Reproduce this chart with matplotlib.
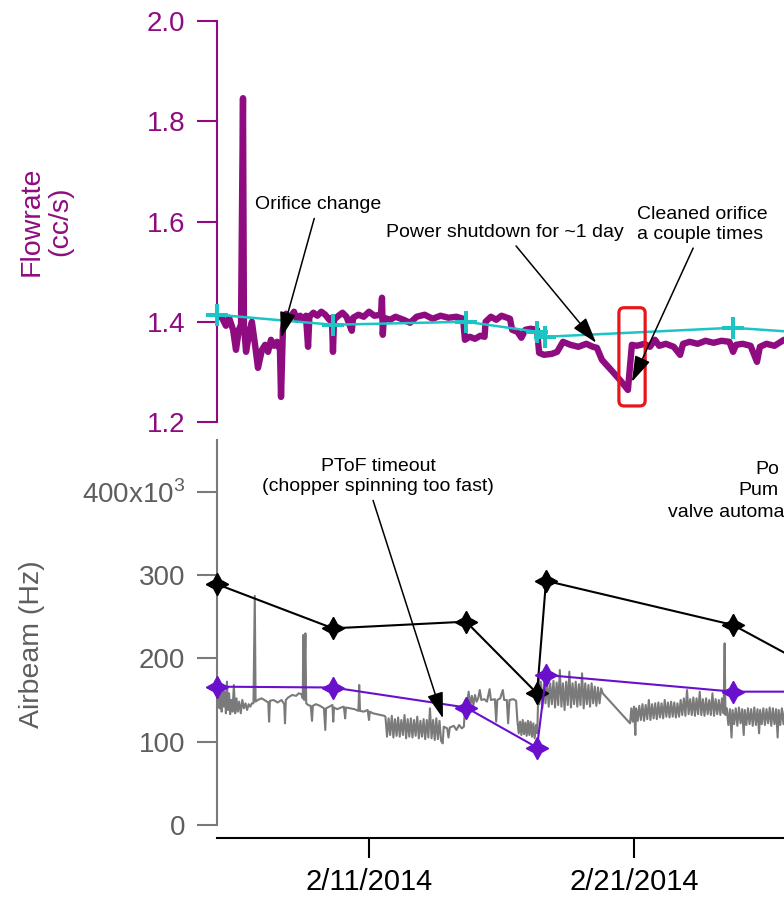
import numpy as np
import matplotlib
matplotlib.use("Agg")
import matplotlib.pyplot as plt
import matplotlib.dates as mdates
from matplotlib.patches import FancyBboxPatch

plt.rcParams['font.family'] = ['Liberation Sans', 'DejaVu Sans']
plt.rcParams['mathtext.fontset'] = 'custom'
plt.rcParams['mathtext.rm'] = 'Liberation Sans'

# ---- data (days since 2014-02-01) ----
flow_days = [4.26, 4.45, 4.60, 4.72, 4.87, 4.98, 5.09, 5.17, 5.245, 5.28, 5.36, 5.47, 5.58, 5.70,
             5.81, 5.96, 6.08, 6.19, 6.30, 6.42, 6.53, 6.64, 6.68, 6.75, 6.87, 7.02, 7.17, 7.28,
             7.40, 7.51, 7.62, 7.70, 7.75, 7.90, 8.05, 8.20, 8.35, 8.50, 8.60, 8.64, 8.68, 8.85,
             9.00, 9.15, 9.35, 9.40, 9.60, 9.80, 10.00, 10.20, 10.45, 10.49, 10.52, 10.56, 10.80,
             11.00, 11.30, 11.55, 11.80, 12.10, 12.40, 12.70, 13.00, 13.30, 13.55, 13.62, 13.80,
             14.00, 14.20, 14.36, 14.40, 14.60, 14.80, 15.00, 15.32, 15.40, 15.60, 15.75, 15.90,
             16.10, 16.34, 16.42, 16.60, 16.90, 17.10, 17.32, 17.60, 17.90, 18.20, 18.45, 18.60,
             18.79, 19.20, 19.50, 19.77, 19.92, 20.10, 20.40, 20.60, 20.79, 20.95, 21.20, 21.50,
             21.74, 21.85, 22.10, 22.40, 22.70, 23.00, 23.30, 23.60, 23.74, 23.85, 24.10, 24.40,
             24.64, 24.75, 25.00, 25.30, 25.66]
flow_vals = [1.412, 1.408, 1.392, 1.408, 1.384, 1.344, 1.384, 1.394, 1.846, 1.394, 1.340, 1.374, 1.400, 1.354,
             1.308, 1.344, 1.354, 1.340, 1.364, 1.352, 1.360, 1.344, 1.250, 1.384, 1.416, 1.408, 1.420, 1.404,
             1.412, 1.404, 1.412, 1.350, 1.410, 1.418, 1.412, 1.420, 1.414, 1.404, 1.408, 1.340, 1.404, 1.412,
             1.418, 1.410, 1.382, 1.408, 1.414, 1.410, 1.420, 1.412, 1.414, 1.448, 1.374, 1.408, 1.404,
             1.410, 1.404, 1.398, 1.410, 1.414, 1.406, 1.412, 1.408, 1.410, 1.406, 1.364, 1.370,
             1.366, 1.372, 1.370, 1.400, 1.410, 1.404, 1.412, 1.406, 1.384, 1.380, 1.368, 1.384,
             1.386, 1.384, 1.338, 1.334, 1.336, 1.340, 1.360, 1.354, 1.350, 1.356, 1.350, 1.348,
             1.324, 1.300, 1.282, 1.264, 1.354, 1.352, 1.356, 1.350, 1.364, 1.352, 1.356, 1.350,
             1.334, 1.356, 1.360, 1.356, 1.362, 1.358, 1.362, 1.360, 1.340, 1.354, 1.356, 1.352,
             1.320, 1.350, 1.356, 1.352, 1.364]

cal_days = [4.26, 8.64, 13.66, 16.34, 16.64, 23.74, 26.5]
cal_vals = [1.414, 1.394, 1.400, 1.380, 1.370, 1.388, 1.378]

air_days = [4.27, 4.30, 4.33, 4.36, 4.40, 4.44, 4.48, 4.52, 4.56, 4.60, 4.64, 4.68, 4.72, 4.76, 4.80,
            4.85, 4.90, 4.95, 5.00, 5.05, 5.10, 5.16, 5.22, 5.28, 5.34, 5.40, 5.46, 5.52, 5.58,
            5.64, 5.69, 5.72, 5.80, 5.95, 6.10, 6.20, 6.23, 6.26, 6.40, 6.55, 6.70, 6.80, 6.83, 6.86,
            6.95, 7.10, 7.25, 7.35, 7.45, 7.50, 7.52, 7.55, 7.60, 7.63, 7.70, 7.80, 7.85, 7.88, 8.00,
            8.15, 8.30, 8.35, 8.38, 8.50, 8.62, 8.65, 8.68, 8.80, 8.95, 9.05, 9.10, 9.13, 9.30, 9.45,
            9.60, 9.63, 9.66, 9.80, 9.95, 10.00, 10.03, 10.15, 10.30, 10.45, 10.58,
            10.62, 10.68, 10.74, 10.80, 10.86, 10.92, 10.98, 11.04, 11.10, 11.16, 11.22, 11.28,
            11.34, 11.40, 11.46, 11.52, 11.58, 11.64, 11.70, 11.76, 11.82, 11.88, 11.94, 12.00,
            12.06, 12.12, 12.18, 12.24, 12.30, 12.36, 12.42, 12.48, 12.54, 12.60, 12.66, 12.72, 12.78,
            12.82, 12.95, 13.00, 13.05, 13.20, 13.30, 13.40, 13.50, 13.58,
            13.64, 13.70, 13.76, 13.82, 13.88, 13.94, 14.00, 14.06, 14.12, 14.18, 14.24, 14.35,
            14.45, 14.55, 14.60, 14.75, 14.80, 14.84, 14.95, 15.05, 15.10, 15.20, 15.25, 15.30,
            15.45, 15.55,
            15.60, 15.65, 15.70, 15.75, 15.80, 15.85, 15.90, 15.95, 16.00, 16.05, 16.10, 16.15,
            16.20, 16.25, 16.30, 16.35, 16.40,
            16.42, 16.48, 16.54, 16.60, 16.66, 16.72, 16.78, 16.84, 16.90, 16.96, 17.02, 17.08,
            17.14, 17.20, 17.26, 17.32, 17.38, 17.44, 17.50, 17.56, 17.62, 17.68, 17.74, 17.80,
            17.86, 17.92, 17.98, 18.04, 18.10, 18.16, 18.22, 18.28, 18.34, 18.40, 18.46, 18.52,
            18.58, 18.64, 18.70, 18.76, 18.82,
            19.85, 19.90, 19.95, 20.00, 20.05, 20.08, 20.14, 20.20, 20.26, 20.32, 20.38, 20.44,
            20.50, 20.56, 20.62, 20.68, 20.74, 20.80, 20.86, 20.92, 20.98, 21.04, 21.10, 21.16,
            21.22, 21.28, 21.34, 21.40, 21.46, 21.52, 21.58, 21.64, 21.70,
            21.76, 21.82, 21.88, 21.94, 22.00, 22.06, 22.12, 22.18, 22.24, 22.30, 22.36, 22.42,
            22.48, 22.54, 22.60, 22.66, 22.72, 22.78, 22.84, 22.90, 22.96, 23.02, 23.08, 23.14,
            23.20, 23.26, 23.32, 23.38, 23.42, 23.45,
            23.50, 23.56, 23.62, 23.68, 23.72, 23.78, 23.84, 23.90, 23.96, 24.02, 24.08, 24.14,
            24.18, 24.24, 24.30, 24.36, 24.42, 24.48, 24.54, 24.60, 24.66, 24.72, 24.76, 24.82,
            24.88, 24.94, 25.00, 25.06, 25.12, 25.18, 25.24, 25.30, 25.36, 25.42, 25.46, 25.52,
            25.58, 25.64, 25.70]
air_vals = [175, 150, 170, 140, 165, 136, 168, 142, 160, 134, 172, 138, 158, 133, 150,
            136, 168, 134, 152, 136, 148, 134, 150, 140, 146, 138, 145, 142, 146,
            146, 275, 148, 150, 152, 149, 147, 124, 149, 150, 147, 150, 145, 122, 150,
            153, 156, 155, 158, 157, 152, 228, 150, 230, 146, 144, 143, 125, 143, 145,
            143, 140, 114, 140, 142, 144, 124, 141, 139, 141, 142, 128, 141, 140, 139,
            137, 168, 137, 136, 138, 126, 136, 134, 133, 132, 131,
            130, 106, 128, 108, 131, 105, 127, 107, 129, 106, 126, 108,
            132, 104, 127, 106, 128, 105, 126, 107, 130, 104, 125, 106,
            127, 103, 126, 105, 140, 104, 126, 102, 128, 103, 125, 101, 98,
            118, 116, 105, 117, 119, 114, 120, 116, 118,
            150, 146, 160, 142, 155, 144, 156, 148, 152, 162, 150, 151,
            148, 163, 150, 151, 124, 150, 152, 162, 150, 150, 122, 150,
            151, 149,
            125, 110, 124, 108, 126, 109, 123, 107, 125, 108, 124, 106,
            122, 104, 120, 110, 175,
            145, 172, 140, 170, 146, 174, 142, 170, 145, 173, 141, 171,
            144, 186, 142, 170, 138, 172, 144, 184, 141, 170, 145, 172,
            142, 169, 144, 182, 140, 170, 145, 168, 142, 170, 146, 166,
            143, 165, 146, 164, 158,
            122, 140, 124, 142, 108, 140, 125, 143, 126, 145, 125, 144,
            127, 150, 126, 145, 128, 146, 127, 147, 129, 146, 128, 150,
            130, 147, 129, 148, 130, 147, 129, 146, 130,
            150, 132, 152, 131, 162, 133, 151, 132, 153, 131, 152, 133,
            160, 132, 151, 131, 152, 133, 150, 132, 158, 131, 151, 133,
            150, 132, 152, 134, 218, 132,
            140, 120, 139, 105, 138, 121, 140, 119, 141, 122, 139, 108,
            138, 120, 140, 121, 139, 119, 141, 120, 139, 110, 138, 121,
            140, 120, 139, 122, 141, 119, 140, 121, 139, 105, 138, 120,
            140, 121, 139]

blk_days = [4.26, 8.64, 13.66, 16.34, 16.68, 23.74, 26.3]
blk_vals = [289, 236, 244, 158, 293, 240, 196]
pur_days = [4.26, 8.64, 13.66, 16.34, 16.68, 23.74, 26.3]
pur_vals = [166, 165, 141, 93, 180, 160, 160]

xtick_days = [10, 20]
xtick_labels = ['2/11/2014', '2/21/2014']
flow_ticks = [1.2, 1.4, 1.6, 1.8, 2.0]
air_ticks = [0, 100, 200, 300, 400]
air_tick_labels = ['0', '100', '200', '300', r'400x10$^{\mathrm{3}}$']

base = mdates.date2num(np.datetime64('2014-02-01'))
def t(d):
    return base + np.asarray(d, dtype=float)

FLOW_C = '#8E0C80'
CYAN = '#1CC4C4'
GREY = '#7A7A7A'
GREY_TXT = '#5E5E5E'
VIOLET = '#6A10CC'

W, H = 784, 898
fig = plt.figure(figsize=(W / 100, H / 100), dpi=100)
L = 217 / W
ax1 = fig.add_axes([L, 1 - 422 / H, 1 - L, (422 - 21) / H])
ax2 = fig.add_axes([L, 1 - 825 / H, 1 - L, (825 - 440) / H])
xlim = (t(4.264), t(25.66))

# ---- top: flowrate ----
ax1.plot(t(flow_days), flow_vals, color=FLOW_C, lw=4.6, solid_joinstyle='round',
         solid_capstyle='round', zorder=2)
ax1.plot(t(cal_days), cal_vals, color=CYAN, lw=1.8, marker='+', ms=16, mew=2.9,
         clip_on=False, zorder=3)
ax1.set_xlim(*xlim)
ax1.set_ylim(1.2, 2.0)
ax1.set_yticks(flow_ticks)
ax1.set_yticklabels(['%.1f' % v for v in flow_ticks])
for s in ['top', 'right', 'bottom']:
    ax1.spines[s].set_visible(False)
ax1.spines['left'].set_color(FLOW_C)
ax1.spines['left'].set_linewidth(1.5)
ax1.tick_params(axis='y', length=14.4, width=1.5, color=FLOW_C, labelcolor=FLOW_C,
                labelsize=20, pad=8.5)
ax1.set_xticks([])

box = FancyBboxPatch((t(19.43), 1.232), 0.99, 0.196,
                     boxstyle='round,pad=0,rounding_size=0.2', mutation_aspect=0.053,
                     fill=False, ec='#E8161B', lw=2.3, zorder=4)
ax1.add_patch(box)

arrow = dict(arrowstyle='-|>,head_length=0.8,head_width=0.25', color='black', lw=1.1,
             mutation_scale=20, shrinkA=2, shrinkB=0)
ax1.annotate('Orifice change', xy=(t(6.68), 1.368), xytext=(t(8.08), 1.634),
             ha='center', va='center', fontsize=14, arrowprops=arrow, zorder=5)
ax1.annotate('Power shutdown for ~1 day', xy=(t(18.57), 1.358), xytext=(t(15.13), 1.578),
             ha='center', va='center', fontsize=14, arrowprops=arrow, zorder=5)
ax1.annotate('Cleaned orifice\na couple times', xy=(t(19.92), 1.28), xytext=(t(22.57), 1.594),
             ha='center', va='center', multialignment='left', fontsize=14,
             arrowprops=dict(arrow, relpos=(0.45, 0.0)), zorder=5)

# ---- bottom: airbeam ----
ax2.plot(t(air_days), air_vals, color=GREY, lw=1.5, zorder=2)
ax2.plot(t(blk_days), blk_vals, color='black', lw=1.5, marker=(4, 1, 0), ms=16,
         clip_on=False, zorder=3)
ax2.plot(t(pur_days), pur_vals, color=VIOLET, lw=1.5, marker=(4, 1, 0), ms=16,
         clip_on=False, zorder=4)
ax2.set_xlim(*xlim)
ax2.set_ylim(0, 462)
ax2.set_yticks(air_ticks)
ax2.set_yticklabels(air_tick_labels)
ax2.set_xticks(t(xtick_days))
ax2.set_xticklabels(xtick_labels)
for s in ['top', 'right']:
    ax2.spines[s].set_visible(False)
ax2.spines['left'].set_color(GREY)
ax2.spines['left'].set_linewidth(1.5)
ax2.spines['bottom'].set_position(('outward', 9.4))
ax2.spines['bottom'].set_linewidth(1.5)
ax2.tick_params(axis='y', length=14.4, width=1.5, color=GREY, labelcolor=GREY_TXT,
                labelsize=20, pad=8.5)
ax2.tick_params(axis='x', length=14.4, width=1.5, color='black', labelsize=21, pad=7.5)

ax2.annotate('PToF timeout\n(chopper spinning too fast)', xy=(t(12.79), 128),
             xytext=(t(10.35), 418), ha='center', va='center', fontsize=14,
             arrowprops=dict(arrow, relpos=(0.47, 0.0)), zorder=5)
ax2.text(t(24.57), 427, 'Po', ha='left', va='center', fontsize=14)
ax2.text(t(23.92), 401, 'Pum', ha='left', va='center', fontsize=14)
ax2.text(t(21.28), 375, 'valve automa', ha='left', va='center', fontsize=14)

# axis titles
fig.text(46 / W, 1 - 221 / H, 'Flowrate\n(cc/s)', rotation=90, ha='center', va='center',
         multialignment='center', fontsize=20.5, color=FLOW_C, linespacing=1.15)
fig.text(32 / W, 1 - 644 / H, 'Airbeam (Hz)', rotation=90, ha='center', va='center',
         fontsize=20.5, color=GREY_TXT)

fig.savefig('out.png', dpi=100)
